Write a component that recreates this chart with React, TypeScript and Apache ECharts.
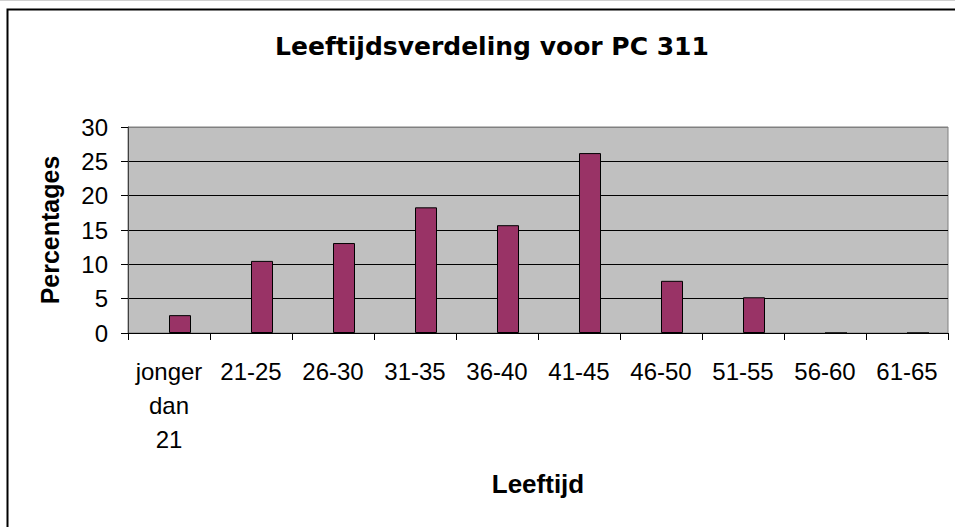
import React, { useEffect, useRef } from "react";
import * as echarts from "echarts";

const chartTitle = "Leeftijdsverdeling voor PC 311";
const xAxisTitle = "Leeftijd";
const yAxisTitle = "Percentages";
const categories = [
  "jonger dan 21",
  "21-25",
  "26-30",
  "31-35",
  "36-40",
  "41-45",
  "46-50",
  "51-55",
  "56-60",
  "61-65",
];
const percentages = [2.6, 10.5, 13.1, 18.3, 15.7, 26.2, 7.6, 5.2, 0, 0];
const emptySeries: (number | null)[] = [];
const yTicks = { min: 0, max: 30, interval: 5 };

const FONT = "'Liberation Sans', Arial, sans-serif";

export default function App() {
  const ref = useRef<HTMLDivElement>(null);
  useEffect(() => {
    if (!ref.current) return;
    const chart = echarts.init(ref.current, null, { renderer: "svg" });
    chart.setOption({
      animation: false,
      backgroundColor: "#ffffff",
      title: {
        text: chartTitle,
        left: 487,
        top: 29,
        textAlign: "center",
        textStyle: {
          fontFamily: "'DejaVu Sans', sans-serif",
          fontWeight: "bold",
          fontSize: 25,
          color: "#000",
        },
      },
      graphic: [
        {
          type: "polyline",
          shape: { points: [[7.5, 600], [7.5, 9.5], [1000, 9.5]] },
          style: { fill: "none", stroke: "#000", lineWidth: 2 },
          silent: true,
        },
        {
          type: "line",
          shape: { x1: 0, y1: 0.5, x2: 955, y2: 0.5 },
          style: { stroke: "#d0d0d0", lineWidth: 1 },
          silent: true,
        },
      ],
      grid: {
        left: 128,
        right: 7,
        top: 127,
        bottom: 194,
        show: true,
        backgroundColor: "#c0c0c0",
        borderColor: "#808080",
        borderWidth: 1,
      },
      xAxis: {
        type: "category",
        data: categories,
        name: xAxisTitle,
        nameLocation: "middle",
        nameGap: 138,
        nameTextStyle: {
          fontFamily: FONT,
          fontWeight: "bold",
          fontSize: 26,
          color: "#000",
        },
        z: 5,
        axisLine: { show: true, lineStyle: { color: "#000", width: 1 } },
        axisTick: { show: true, length: 7, lineStyle: { color: "#000" } },
        axisLabel: {
          fontFamily: FONT,
          fontSize: 24,
          lineHeight: 34,
          color: "#000",
          margin: 21,
          interval: 0,
          formatter: (v: string) => v.replace(/ /g, "\n"),
        },
        splitLine: { show: false },
      },
      yAxis: {
        type: "value",
        min: yTicks.min,
        max: yTicks.max,
        interval: yTicks.interval,
        name: yAxisTitle,
        nameLocation: "middle",
        nameGap: 66,
        nameTextStyle: {
          fontFamily: FONT,
          fontWeight: "bold",
          fontSize: 25,
          color: "#000",
        },
        axisLine: { show: true, lineStyle: { color: "#404040", width: 1 } },
        axisTick: { show: true, length: 7, lineStyle: { color: "#000" } },
        axisLabel: {
          fontFamily: FONT,
          fontSize: 24,
          color: "#000",
          margin: 20,
        },
        splitLine: {
          show: true,
          lineStyle: {
            color: ["#000", "#000", "#000", "#000", "#000", "#000", "#808080"],
            width: 1,
          },
        },
      },
      series: [
        {
          type: "bar",
          name: "leeg",
          data: emptySeries,
          barWidth: 22,
          barGap: "0%",
          itemStyle: { color: "#000080" },
        },
        {
          type: "bar",
          name: yAxisTitle,
          data: percentages,
          barWidth: 22,
          barGap: "0%",
          itemStyle: { color: "#993366", borderColor: "#000", borderWidth: 1 },
        },
      ],
    });
    return () => chart.dispose();
  }, []);
  return (
    <div
      ref={ref}
      style={{ position: "fixed", left: 0, top: 0, width: 955, height: 527 }}
    />
  );
}
